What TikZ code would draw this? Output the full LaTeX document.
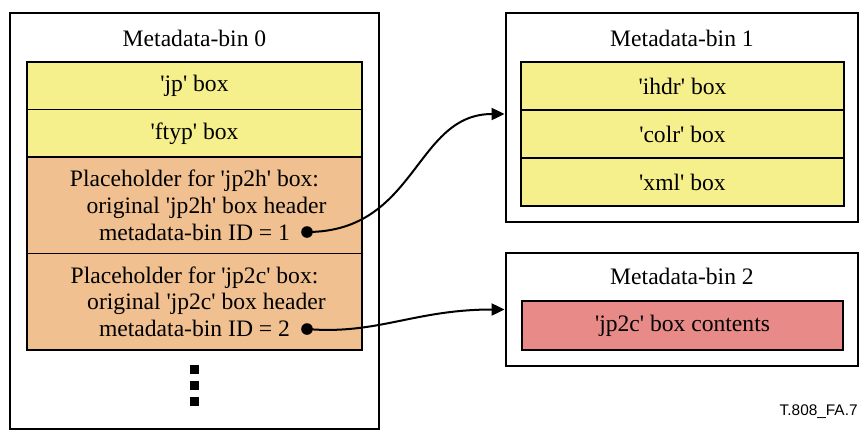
\documentclass[tikz,border=0pt]{standalone}
\usepackage{fontspec}
\setmainfont{Liberation Serif}
\newfontfamily\labelfont{Liberation Sans}
\usetikzlibrary{positioning, fit, arrows.meta}
\definecolor{boxyellow}{HTML}{F5F08C}
\definecolor{boxorange}{HTML}{F0C090}
\definecolor{boxred}{HTML}{E88A88}
\newcommand{\quoted}[1]{\textquotesingle#1\textquotesingle}

\begin{document}
\begin{tikzpicture}[x=0.5pt, y=-0.5pt, every node/.style={font=\fontsize{11.8}{13.3}\selectfont}, bin/.style={draw, line width=1.4pt, inner sep=0pt}, binrow/.style={draw, line width=0.6pt, outer sep=0pt, inner sep=0pt, minimum width=167.5pt, minimum height=23.75pt}, holder/.style={binrow, fill=boxorange, minimum height=48.25pt, align=center}, rightrow/.style={binrow, minimum width=161.5pt, minimum height=24pt}, bullet/.style={circle, fill, inner sep=0pt, minimum size=5.8pt}, ellip/.style={rectangle, fill, inner sep=0pt, minimum size=4.5pt}, link/.style={line width=1pt, -{Triangle[length=6.5pt, width=6pt]}}]
  \useasboundingbox (0,0) rectangle (859,430);
  \node[bin, fit={(10,13) (379,429)}] (bin0) {};
  \node (title0) at (194.5,38) {Metadata-bin 0};
  \node[binrow, fill=boxyellow, anchor=north] (jp) at (194.5,62) {\quoted{jp} box};
  \node[binrow, fill=boxyellow, below=0pt of jp] (ftyp) {\quoted{ftyp} box};
  \node[holder, below=0pt of ftyp] (jp2h) {Placeholder for \quoted{jp2h} box:\\\hspace*{12pt}original \quoted{jp2h} box header\\metadata-bin ID = 1};
  \node[holder, below=0pt of jp2h] (jp2c) {Placeholder for \quoted{jp2c} box:\\\hspace*{12pt}original \quoted{jp2c} box header\\metadata-bin ID = 2};
  \node[bullet] (d1) at (307,232) {};
  \node[bullet] (d2) at (307,329) {};
  \foreach \y [count=\i] in {369,385,401}
    \node[ellip] (more\i) at (194,\y) {};

  \node[bin, fit={(506,13) (858,222)}] (bin1) {};
  \node (title1) at (682,38) {Metadata-bin 1};
  \node[rightrow, fill=boxyellow, anchor=north] (ihdr) at (682.5,62) {\quoted{ihdr} box};
  \node[rightrow, fill=boxyellow, below=0pt of ihdr] (colr) {\quoted{colr} box};
  \node[rightrow, fill=boxyellow, below=0pt of colr] (xml) {\quoted{xml} box};

  \node[bin, fit={(506,253) (858,366)}] (bin2) {};
  \node (title2) at (682,276) {Metadata-bin 2};
  \node[binrow, fill=boxred, minimum width=160.5pt, minimum height=24.5pt, anchor=north] (contents) at (682.5,301) {\quoted{jp2c} box contents};

  \draw[link] (d1.center) .. controls +(110,0) and +(-90,0) .. ([yshift=1.75pt]bin1.west);
  \draw[link] (d2.center) .. controls +(70,6) and +(-90,0) .. (bin2.west);

  \node[font=\labelfont\fontsize{7.7}{9}\selectfont, anchor=east, inner sep=0pt] (figid) at (858,412) {T.808\_FA.7};
\end{tikzpicture}
\end{document}
